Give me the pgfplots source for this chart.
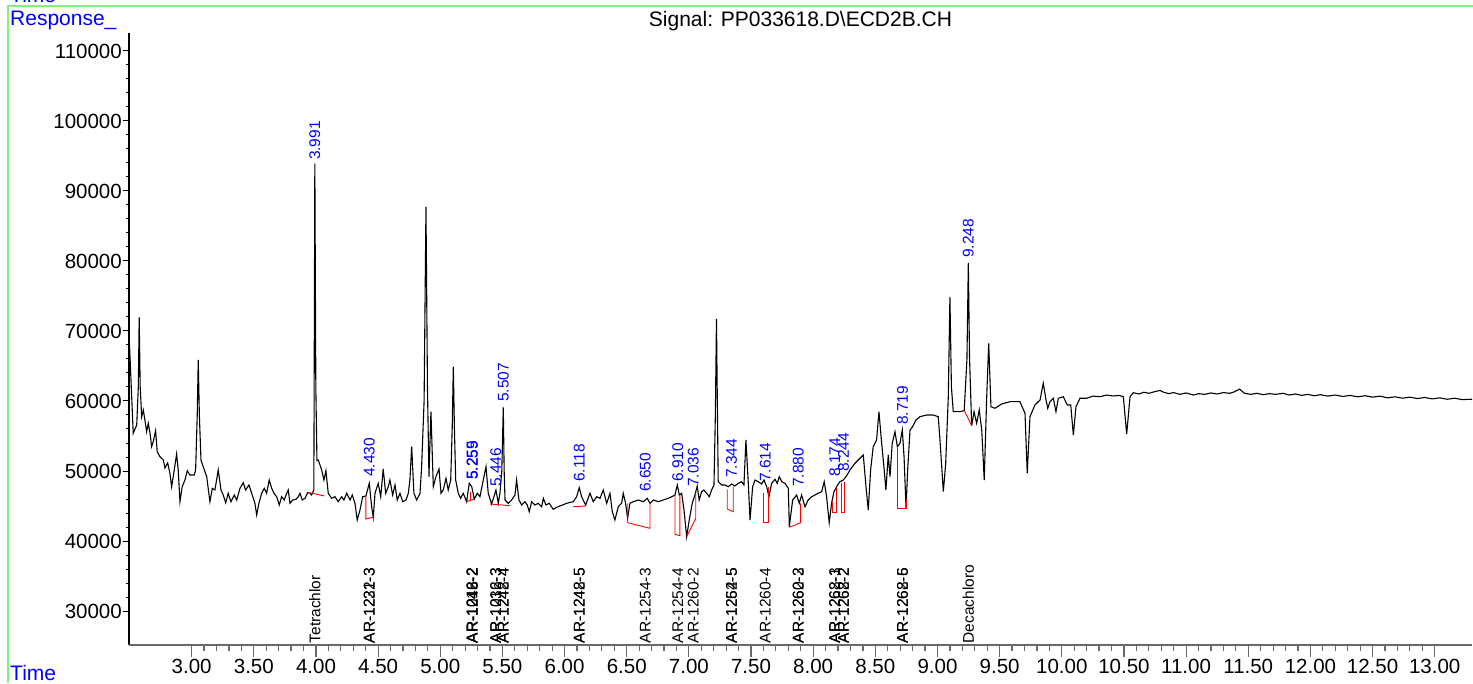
\documentclass[border=0pt]{standalone}
\usepackage{fontspec}
\setmainfont{Liberation Sans}
\usepackage{pgfplots}
\pgfplotsset{compat=1.18}
\definecolor{frameGreen}{RGB}{130,240,130}
\definecolor{axGray}{RGB}{105,105,105}

\newcommand{\tickfont}{\fontsize{20.5}{24}\selectfont}
\newcommand{\annfont}{\fontsize{15.5}{18}\selectfont}

\begin{document}
\begin{tikzpicture}[x=1pt,y=1pt]
\useasboundingbox (0,0) rectangle (1473,683);
% frame and header texts
\draw[frameGreen, line width=1.5pt] (8,0) -- (8,677) -- (1473,677);
\node[anchor=base west, inner sep=0, blue, font=\fontsize{21}{24}\selectfont] at (10,680) {Time};
\node[anchor=base west, inner sep=0, blue, font=\fontsize{21}{24}\selectfont] at (10,657) {Response\_};
\node[anchor=base west, inner sep=0, blue, font=\fontsize{21}{24}\selectfont] at (10,2) {Time};
\node[anchor=base, inner sep=0, font=\fontsize{21}{24}\selectfont] at (800.5,656) {Signal: PP033618.D\textbackslash ECD2B.CH};

% y axis only
\begin{axis}[
    at={(129pt,38pt)}, anchor=south west,
    scale only axis, width=1343pt, height=612pt,
    xmin=2.496, xmax=13.30, ymin=25143, ymax=112571,
    axis x line=none, axis y line*=left,
    y axis line style={line width=1.2pt, black},
    tick align=outside,
    major tick length=6pt, minor tick length=3pt,
    scaled y ticks=false,
    ytick={30000,40000,50000,60000,70000,80000,90000,100000,110000},
    yticklabels={30000,40000,50000,60000,70000,80000,90000,100000,110000},
    minor y tick num=4,
    ytick style={line width=1pt, black},
    yticklabel style={font=\tickfont, inner sep=1pt},
]
\end{axis}

% x axis and data
\begin{axis}[
    at={(129pt,38pt)}, anchor=south west,
    scale only axis, width=1343pt, height=612pt,
    xmin=2.496, xmax=13.30, ymin=25143, ymax=112571,
    axis y line=none, axis x line*=bottom,
    x axis line style={line width=1.5pt, axGray},
    tick align=outside,
    major tick length=12pt, minor tick length=6pt,
    scaled x ticks=false, scaled y ticks=false,
    xtick={3,3.5,4,4.5,5,5.5,6,6.5,7,7.5,8,8.5,9,9.5,10,10.5,11,11.5,12,12.5,13},
    xticklabels={3.00,3.50,4.00,4.50,5.00,5.50,6.00,6.50,7.00,7.50,8.00,8.50,9.00,9.50,10.00,10.50,11.00,11.50,12.00,12.50,13.00},
    minor x tick num=4,
    xtick style={line width=1.2pt, axGray},
    xticklabel style={font=\tickfont, inner sep=1pt, yshift=-1pt},
    clip=false,
]
% chromatogram trace
\addplot[black, line width=1.1pt] coordinates {
(2.496,69714) (2.530,55386) (2.558,56571) (2.571,62000) (2.578,71957) (2.586,62000) (2.598,57757) (2.611,58715) (2.624,57286) (2.638,55615) (2.651,56815) (2.665,55429) (2.678,53472) (2.691,54186) (2.710,55757) (2.723,52757) (2.745,52043) (2.772,51572) (2.785,50429) (2.807,51143) (2.825,49715) (2.839,47757) (2.860,50143) (2.879,52429) (2.892,50143) (2.906,45615) (2.924,47757) (2.946,48715) (2.965,50043) (2.986,49429) (3.021,49429) (3.032,50143) (3.045,58000) (3.053,65857) (3.062,58000) (3.075,51572) (3.093,50615) (3.121,49186) (3.147,45615) (3.166,47529) (3.187,47286) (3.214,50143) (3.236,47286) (3.254,46572) (3.274,45472) (3.294,46815) (3.316,45615) (3.343,46572) (3.362,45858) (3.389,47529) (3.415,48329) (3.434,47286) (3.461,48001) (3.483,46815) (3.509,45386) (3.523,43715) (3.541,45386) (3.563,46815) (3.584,47529) (3.603,46815) (3.624,48715) (3.644,47529) (3.662,46815) (3.684,46329) (3.705,45143) (3.724,46329) (3.745,45858) (3.764,46815) (3.777,47286) (3.791,45386) (3.813,45858) (3.839,45958) (3.858,46329) (3.871,46815) (3.890,45858) (3.912,46100) (3.933,46900) (3.952,46815) (3.965,46572) (3.983,47300) (3.991,93900) (3.999,62000) (4.008,51500) (4.019,51572) (4.046,50143) (4.064,48715) (4.080,50043) (4.099,46815)
(4.126,46100) (4.153,46329) (4.179,45615) (4.207,46329) (4.225,45858) (4.247,46815) (4.274,45858) (4.292,46572) (4.314,45386) (4.332,43000) (4.354,44429) (4.376,46329) (4.402,46429) (4.429,48243) (4.448,44901) (4.461,43386) (4.475,46815) (4.501,48243) (4.521,46329) (4.541,50286) (4.561,46815) (4.582,47757) (4.595,48715) (4.617,46572) (4.636,48001) (4.654,45858) (4.676,46815) (4.698,45615) (4.724,45858) (4.743,46815) (4.756,48715) (4.770,53472) (4.788,46815) (4.810,45858) (4.837,46815) (4.850,50615) (4.870,60000) (4.885,87714) (4.897,62000) (4.909,49186) (4.925,58472) (4.944,47757) (4.965,49186) (4.990,50286) (5.006,46815) (5.024,47286) (5.046,48957) (5.064,47286) (5.084,48715) (5.096,56000) (5.105,64900) (5.114,56000) (5.124,48715) (5.145,46815) (5.164,46100) (5.185,46815) (5.212,45615) (5.233,48243) (5.253,47757) (5.274,46000) (5.298,46815) (5.319,46329) (5.346,48715) (5.368,50615) (5.386,46815) (5.413,45286) (5.432,46329) (5.448,47286) (5.467,45386) (5.480,46815) (5.495,50000) (5.507,59100) (5.514,50000) (5.521,45858) (5.547,45386) (5.574,45858) (5.601,46572) (5.614,48715) (5.633,45858) (5.655,45143) (5.681,45615) (5.700,45143) (5.716,44186) (5.735,45615) (5.762,45143) (5.788,45386) (5.816,44901) (5.829,46100) (5.850,45143) (5.877,45386) (5.909,44529) (5.936,44815) (5.963,45000) (6.017,45386) (6.070,45615) (6.097,46329) (6.118,47615) (6.137,46329) (6.170,45143) (6.204,46815) (6.231,45615) (6.258,46329) (6.285,46100) (6.311,47286) (6.339,45386) (6.365,46815) (6.384,44186) (6.405,43000) (6.432,44901) (6.459,45386) (6.472,46815) (6.491,45386) (6.507,43243) (6.526,45386) (6.553,45615) (6.593,45858) (6.633,45615) (6.665,46100) (6.687,45386) (6.714,45858) (6.754,45615) (6.794,45858) (6.834,46100) (6.862,46329) (6.888,46572) (6.907,48001) (6.923,46572) (6.942,46815) (6.961,44429) (6.982,40614) (7.003,43000) (7.027,45386) (7.049,46572) (7.067,47857) (7.083,45858) (7.103,47043) (7.121,47286) (7.143,46815) (7.164,46329) (7.183,47286) (7.202,48001) (7.213,58000) (7.222,71714) (7.230,58000) (7.236,48472) (7.264,48001) (7.290,48001) (7.317,47757) (7.344,48143) (7.370,47857) (7.397,48243) (7.424,48472) (7.443,48001) (7.459,54429) (7.478,48243) (7.492,43000) (7.513,47757) (7.532,48715) (7.558,48472) (7.586,48143) (7.604,48715) (7.626,47757) (7.644,46329) (7.666,48243) (7.693,48815) (7.711,48243) (7.727,49186) (7.747,48472) (7.773,48243) (7.800,47529) (7.808,42043) (7.835,45858) (7.867,46572) (7.888,45386) (7.907,46572) (7.934,44901) (7.960,45858) (7.988,46329) (8.014,46572) (8.041,46815) (8.068,47043) (8.089,48472) (8.108,46329) (8.129,42614) (8.148,45386) (8.167,47043) (8.189,47757) (8.202,48143) (8.215,48472) (8.242,48715) (8.264,49186) (8.296,50143) (8.336,51100) (8.376,51814) (8.403,52286) (8.425,47757) (8.443,44429) (8.462,50143) (8.483,53472) (8.510,54429) (8.529,58472) (8.551,53957) (8.569,50615) (8.585,47286) (8.604,52286) (8.618,49186) (8.636,53957) (8.658,55615) (8.677,53472) (8.698,53957) (8.717,55857) (8.731,52043) (8.747,44672) (8.760,50143) (8.779,55857) (8.800,56329) (8.827,57286) (8.859,57757) (8.913,58001) (8.966,58001) (9.006,57757) (9.020,54429) (9.047,47043) (9.066,51100) (9.087,60614) (9.100,74857) (9.112,62000) (9.127,58472) (9.181,58472) (9.215,58615) (9.237,66000) (9.248,79714) (9.258,66000) (9.275,56471) (9.294,58472) (9.315,56815) (9.336,58715) (9.356,55857) (9.376,48715) (9.396,60614) (9.412,68243) (9.430,59186) (9.462,58957) (9.516,59572) (9.583,59900) (9.663,59900) (9.704,58243) (9.722,49672) (9.744,57757) (9.784,59429) (9.825,60143) (9.851,62529) (9.873,60143) (9.887,58957) (9.905,59900) (9.932,60386) (9.953,58472) (9.972,60386) (10.012,60614) (10.044,59429) (10.072,59429) (10.093,55143) (10.114,59186) (10.146,60386) (10.200,60386) (10.250,60700) (10.307,60614) (10.360,60850) (10.414,60715) (10.460,60800) (10.495,60614) (10.522,55286) (10.549,60614) (10.575,61186)
(10.62,61000) (10.66,61250) (10.70,61100) (10.75,61350) (10.79,61500) (10.82,61250) (10.86,61050) (10.90,61200) (10.95,60950) (11.00,61150) (11.06,60850) (11.10,61050) (11.15,60950) (11.20,61150) (11.25,61000) (11.30,61200) (11.35,61100) (11.38,61250) (11.43,61700) (11.47,61100) (11.52,60950) (11.57,61100) (11.62,60900) (11.67,61050) (11.72,60950) (11.78,61100) (11.83,60850) (11.88,61000) (11.93,60800) (11.98,60950) (12.03,60750) (12.08,60900) (12.14,60700) (12.20,60850) (12.26,60650) (12.32,60800) (12.38,60600) (12.44,60750) (12.50,60550) (12.56,60700) (12.62,60450) (12.68,60600) (12.74,60400) (12.80,60550) (12.86,60350) (12.92,60500) (12.98,60300) (13.04,60450) (13.10,60250) (13.16,60400) (13.22,60200) (13.30,60250)
};

% integration baselines
\addplot[red, line width=0.9pt] coordinates {(3.952,46900) (4.067,46430)};
\addplot[red, line width=0.9pt] coordinates {(4.402,46430) (4.402,43143) (4.467,43430)};
\addplot[red, line width=0.9pt] coordinates {(5.212,45614) (5.274,46000)};
\addplot[red, line width=0.9pt] coordinates {(5.239,47000) (5.239,45800)};
\addplot[red, line width=0.9pt] coordinates {(5.400,45286) (5.560,45043)};
\addplot[red, line width=0.9pt] coordinates {(6.070,44900) (6.170,45000)};
\addplot[red, line width=0.9pt] coordinates {(6.508,45386) (6.508,42614) (6.687,41814) (6.687,45386)};
\addplot[red, line width=0.9pt] coordinates {(6.888,46571) (6.888,40957) (6.928,40757) (6.928,46571)};
\addplot[red, line width=0.9pt] coordinates {(6.982,40614) (7.055,43243) (7.055,46814)};
\addplot[red, line width=0.9pt] coordinates {(7.309,47386) (7.309,44571) (7.357,44186) (7.357,47757)};
\addplot[red, line width=0.9pt] coordinates {(7.599,46814) (7.599,42614) (7.639,42614) (7.639,47757)};
\addplot[red, line width=0.9pt] coordinates {(7.808,41957) (7.899,42614) (7.899,45386)};
\addplot[red, line width=0.9pt] coordinates {(8.157,45614) (8.157,44043) (8.189,44043) (8.189,47529)};
\addplot[red, line width=0.9pt] coordinates {(8.224,48243) (8.224,44100) (8.250,44100) (8.250,48471)};
\addplot[red, line width=0.9pt] coordinates {(8.677,53243) (8.677,44671) (8.752,44671) (8.752,46000)};
\addplot[red, line width=0.9pt] coordinates {(9.216,58614) (9.275,56471)};

% retention time labels
\begin{scope}[every node/.style={rotate=90, anchor=west, inner sep=0pt, blue, font=\annfont}]
\node at (axis cs:3.991,94400) {3.991};
\node at (axis cs:4.430,49143) {4.430};
\node at (axis cs:5.255,48715) {5.255};
\node at (axis cs:5.259,48715) {5.259};
\node at (axis cs:5.446,47714) {5.446};
\node at (axis cs:5.507,59857) {5.507};
\node at (axis cs:6.118,48429) {6.118};
\node at (axis cs:6.650,47000) {6.650};
\node at (axis cs:6.910,48429) {6.910};
\node at (axis cs:7.036,47714) {7.036};
\node at (axis cs:7.344,49000) {7.344};
\node at (axis cs:7.614,48429) {7.614};
\node at (axis cs:7.880,47714) {7.880};
\node at (axis cs:8.174,49143) {8.174};
\node at (axis cs:8.244,49857) {8.244};
\node at (axis cs:8.719,56571) {8.719};
\node at (axis cs:9.248,80429) {9.248};
\end{scope}

% compound names
\begin{scope}[every node/.style={rotate=90, anchor=west, inner sep=1.5pt, black, font=\annfont}]
\node at (axis cs:3.991,25143) {Tetrachlor};
\node at (axis cs:4.430,25143) {AR-1221-3};
\node at (axis cs:4.430,25143) {AR-1232-3};
\node at (axis cs:5.255,25143) {AR-1016-2};
\node at (axis cs:5.255,25143) {AR-1242-2};
\node at (axis cs:5.259,25143) {AR-1248-2};
\node at (axis cs:5.446,25143) {AR-1232-3};
\node at (axis cs:5.446,25143) {AR-1016-3};
\node at (axis cs:5.507,25143) {AR-1248-4};
\node at (axis cs:5.507,25143) {AR-1242-4};
\node at (axis cs:6.118,25143) {AR-1248-5};
\node at (axis cs:6.118,25143) {AR-1242-5};
\node at (axis cs:6.650,25143) {AR-1254-3};
\node at (axis cs:6.910,25143) {AR-1254-4};
\node at (axis cs:7.036,25143) {AR-1260-2};
\node at (axis cs:7.344,25143) {AR-1262-5};
\node at (axis cs:7.344,25143) {AR-1254-5};
\node at (axis cs:7.614,25143) {AR-1260-4};
\node at (axis cs:7.880,25143) {AR-1260-3};
\node at (axis cs:7.880,25143) {AR-1262-2};
\node at (axis cs:8.174,25143) {AR-1268-1};
\node at (axis cs:8.174,25143) {AR-1262-3};
\node at (axis cs:8.244,25143) {AR-1262-2};
\node at (axis cs:8.244,25143) {AR-1268-2};
\node at (axis cs:8.719,25143) {AR-1268-5};
\node at (axis cs:8.719,25143) {AR-1262-6};
\node at (axis cs:9.248,25143) {Decachloro};
\end{scope}
\end{axis}
\end{tikzpicture}
\end{document}
